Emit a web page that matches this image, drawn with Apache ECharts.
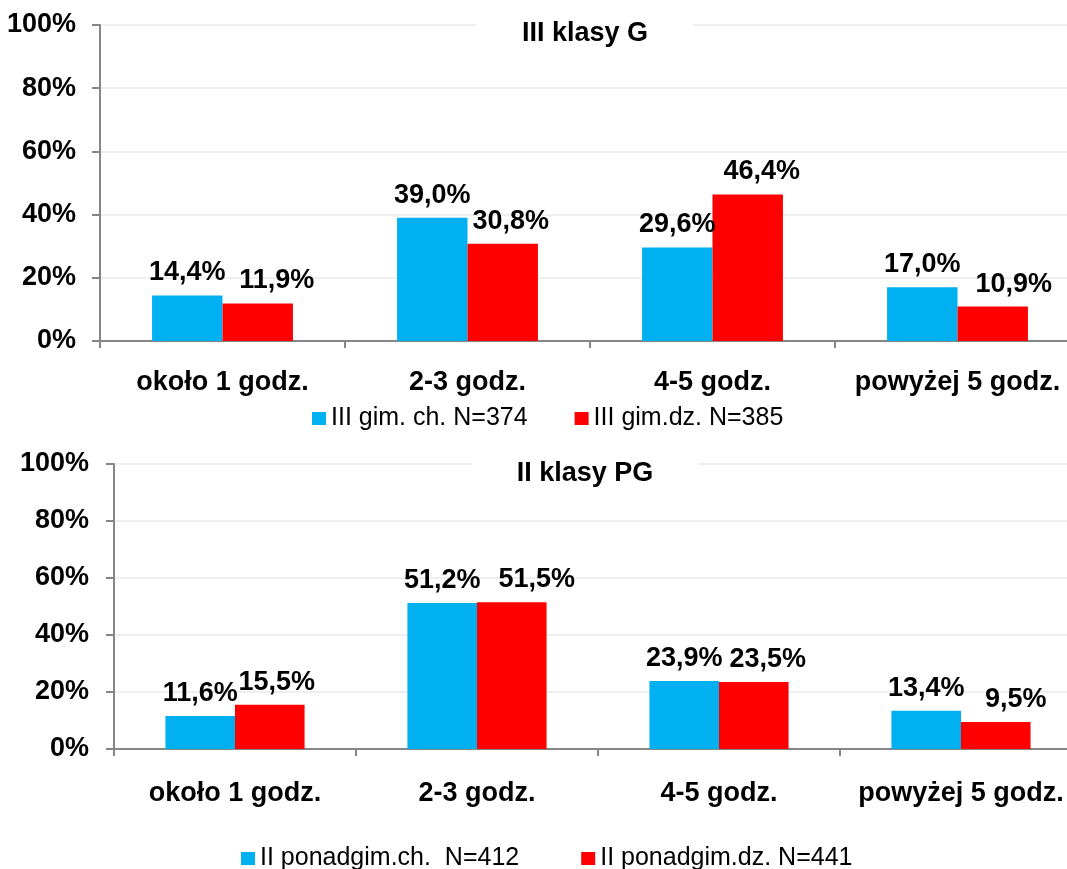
<!DOCTYPE html>
<html>
<head>
<meta charset="utf-8">
<title>III klasy G / II klasy PG</title>
<script src="https://cdn.jsdelivr.net/npm/echarts@6/dist/echarts.min.js"></script>
<style>
  html, body { margin: 0; padding: 0; background: #fff; }
  #chart { width: 1067px; height: 869px; }
</style>
</head>
<body>
<div id="chart"></div>
<script>
// kategorie (wspólne dla obu wykresów)
var categories = ["około 1 godz.", "2-3 godz.", "4-5 godz.", "powyżej 5 godz."];
var yTicks = [0, 20, 40, 60, 80, 100];

// III klasy G
var titleTop = "III klasy G";
var namesTop = ["III gim. ch. N=374", "III gim.dz. N=385"];
var boysTop = [14.4, 39.0, 29.6, 17.0];
var girlsTop = [11.9, 30.8, 46.4, 10.9];

// II klasy PG
var titleBottom = "II klasy PG";
var namesBottom = ["II ponadgim.ch.  N=412", "II ponadgim.dz. N=441"];
var boysBottom = [11.6, 51.2, 23.9, 13.4];
var girlsBottom = [15.5, 51.5, 23.5, 9.5];

var BLUE = "#00B0F0";
var RED = "#FF0000";
var FONT = "Liberation Sans, Arial, sans-serif";
var BOLD_SIZE = 27;

// przesunięcia etykiet czerwonych słupków (jak w oryginale z Excela)
var nudgeTop = [19, 8, 14, 21];
var nudgeBottom = [7, 25, 14, 20];

function pct(v) {
  return v.toFixed(1).replace(".", ",") + "%";
}

function makeSeries(name, values, color, axisIdx, nudge) {
  return {
    name: name,
    type: "bar",
    xAxisIndex: axisIdx,
    yAxisIndex: axisIdx,
    barGap: "0%",
    barCategoryGap: "42.5%",
    itemStyle: { color: color },
    label: {
      show: true,
      position: "top",
      distance: 9,
      color: "#000",
      fontFamily: FONT,
      fontWeight: "bold",
      fontSize: BOLD_SIZE,
      formatter: function (p) { return pct(p.value); }
    },
    data: values.map(function (v, i) {
      var item = { value: v };
      if (nudge) item.label = { offset: [nudge[i], 0] };
      return item;
    })
  };
}

function makeX(idx, margin) {
  return {
    type: "category",
    gridIndex: idx,
    data: categories,
    axisLine: { show: true, lineStyle: { color: "#868686", width: 2 } },
    axisTick: { show: true, length: 7, lineStyle: { color: "#868686", width: 2 } },
    axisLabel: {
      interval: 0,
      margin: margin,
      color: "#000",
      fontFamily: FONT,
      fontWeight: "bold",
      fontSize: BOLD_SIZE
    }
  };
}

function makeY(idx, margin) {
  return {
    type: "value",
    gridIndex: idx,
    min: yTicks[0],
    max: yTicks[yTicks.length - 1],
    interval: yTicks[1] - yTicks[0],
    axisLine: { show: true, lineStyle: { color: "#868686", width: 2 } },
    axisTick: { show: true, length: 8, lineStyle: { color: "#868686", width: 2 } },
    splitLine: { show: true, lineStyle: { color: "#efefef", width: 2 } },
    axisLabel: {
      margin: margin,
      color: "#000",
      fontFamily: FONT,
      fontWeight: "bold",
      fontSize: BOLD_SIZE,
      formatter: "{value}%"
    }
  };
}

function makeTitle(text, top) {
  return {
    text: text,
    left: 540,
    top: top,
    textAlign: "center",
    backgroundColor: "#fff",
    padding: [6, 45],
    textStyle: { color: "#000", fontFamily: FONT, fontWeight: "bold", fontSize: BOLD_SIZE }
  };
}

function makeLegend(names, left, top, gap) {
  return {
    data: names,
    left: left,
    top: top,
    padding: 0,
    itemGap: gap,
    itemWidth: 14,
    itemHeight: 13,
    icon: "rect",
    selectedMode: false,
    textStyle: { color: "#000", fontFamily: FONT, fontSize: 25 }
  };
}

var chart = echarts.init(document.getElementById("chart"), null, { renderer: "canvas" });
chart.setOption({
  backgroundColor: "#fff",
  animation: false,
  title: [makeTitle(titleTop, 14), makeTitle(titleBottom, 454)],
  legend: [
    makeLegend(namesTop, 312, 406, 47),
    makeLegend(namesBottom, 241, 846, 62)
  ],
  grid: [
    { left: 100, top: 25, width: 980, height: 316, containLabel: false, outerBoundsMode: "none" },
    { left: 114, top: 464, width: 968, height: 285, containLabel: false, outerBoundsMode: "none" }
  ],
  xAxis: [makeX(0, 28), makeX(1, 31)],
  yAxis: [makeY(0, 24), makeY(1, 25)],
  series: [
    makeSeries(namesTop[0], boysTop, BLUE, 0, null),
    makeSeries(namesTop[1], girlsTop, RED, 0, nudgeTop),
    makeSeries(namesBottom[0], boysBottom, BLUE, 1, null),
    makeSeries(namesBottom[1], girlsBottom, RED, 1, nudgeBottom)
  ]
});

window.addEventListener("resize", function () {
  chart.resize();
});
</script>
</body>
</html>
